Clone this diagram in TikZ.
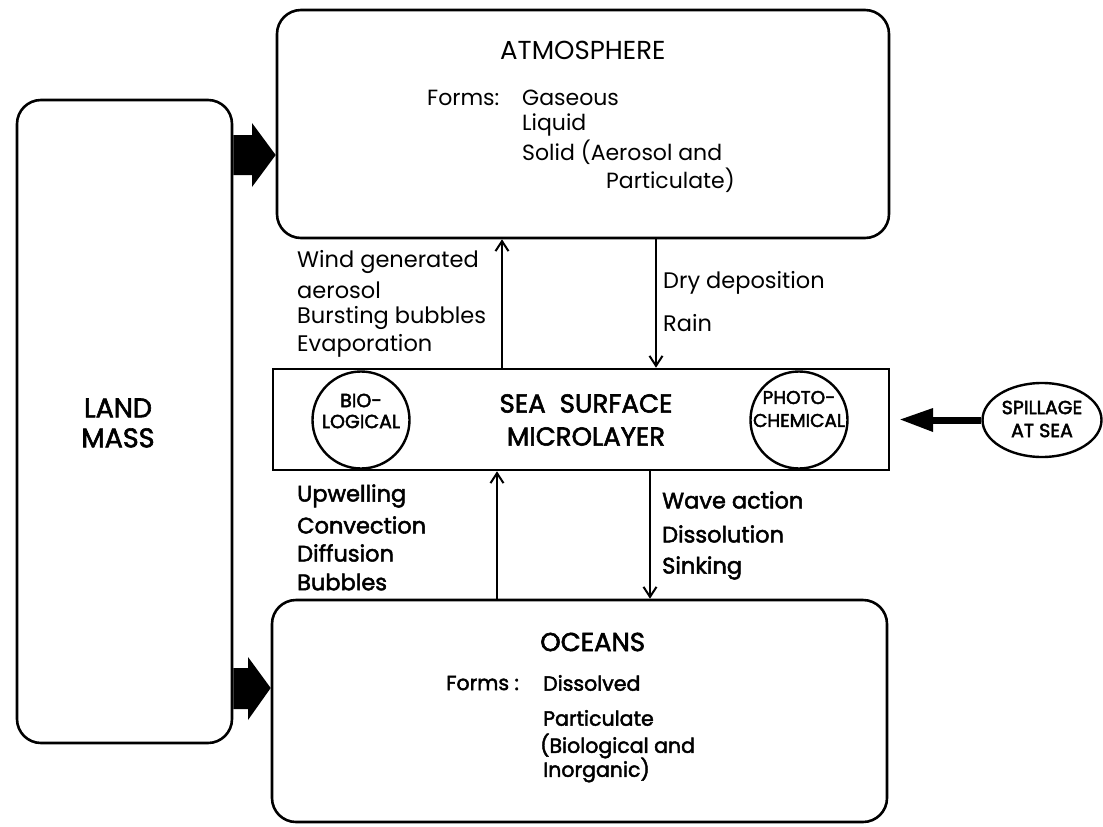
\documentclass[tikz,border=0pt]{standalone}
\usepackage{fontspec}
\setmainfont{Poppins}
\newfontfamily\heavy[FakeBold=2.2]{Poppins}
\newfontfamily\circf[FakeBold=2.4]{Poppins}
\usetikzlibrary{arrows.meta,shapes.geometric,calc}
\tikzset{
  box/.style={draw, line width=2.6pt, rounded corners=24pt, inner sep=0pt},
  flatbox/.style={draw, line width=2.6pt, inner sep=0pt},
  roundel/.style={draw, circle, line width=2.4pt, fill=white, minimum size=97pt, inner sep=0pt},
  lab/.style={anchor=west, inner sep=0pt, font=\fontsize{22.5}{26}\selectfont},
  alab/.style={anchor=west, inner sep=0pt, font=\fontsize{22}{26}\selectfont},
  hlab/.style={anchor=west, inner sep=0pt, font=\heavy\fontsize{22.5}{26}\selectfont},
  olab/.style={anchor=west, inner sep=0pt, font=\heavy\fontsize{20.5}{24}\selectfont},
  title/.style={inner sep=0pt, align=center, font=\fontsize{26}{30}\selectfont},
  htitle/.style={inner sep=0pt, align=center, font=\heavy\fontsize{26}{31}\selectfont},
  circtxt/.style={inner sep=0pt, align=center, font=\circf\fontsize{19}{21}\selectfont},
  flow/.style={line width=2pt, -{Straight Barb[length=10pt,width=13pt,line width=2pt]}},
}
\begin{document}
\begin{tikzpicture}[x=1pt,y=-1pt]
\useasboundingbox (0,0) rectangle (1103,827);
% main boxes
\node[box, minimum width=215pt, minimum height=643pt] (land) at (124.5,421.5) {};
\node[box, minimum width=612pt, minimum height=228pt] (atm) at (583,124) {};
\node[box, minimum width=615pt, minimum height=222pt] (oce) at (579.5,711) {};
\node[flatbox, minimum width=616pt, minimum height=101pt] (sea) at (581,419.5) {};
\node[roundel] (bio) at (361,420) {};
\node[roundel] (pho) at (799,420) {};
\node[draw, ellipse, line width=2.4pt, minimum width=119pt, minimum height=74pt, inner sep=0pt] (spill) at (1042,420) {};

% box texts
\node[htitle, font=\heavy\fontsize{27}{30}\selectfont] (landtxt) at (118,423) {LAND\\MASS};
\node[htitle, font=\heavy\fontsize{26}{33}\selectfont] (seatxt) at (586,420) {SEA\hspace{14pt}SURFACE\\MICROLAYER};
\node[circtxt] (biotxt) at (361,411) {BIO-\\LOGICAL};
\node[circtxt, font=\circf\fontsize{18.5}{23}\selectfont] (photxt) at (799,409) {PHOTO-\\CHEMICAL};
\node[circtxt, font=\circf\fontsize{19}{23}\selectfont] (spilltxt) at (1042,419) {SPILLAGE\\AT SEA};

\node[title, anchor=west] (atmtitle) at (500,50) {ATMOSPHERE};
\node[alab] (atmforms) at (427,98) {Forms:};
\node[alab] (atmf1) at (522,98) {Gaseous};
\node[alab] (atmf2) at (522,125) {Liquid};
\node[alab] (atmf3) at (522,152) {Solid (Aerosol and};
\node[alab] (atmf4) at (606,180) {Particulate)};

\node[htitle, anchor=west] (ocetitle) at (540,642) {OCEANS};
\node[olab] (oceforms) at (446,683) {Forms :};
\node[olab] (ocef1) at (543,683) {Dissolved};
\node[olab] (ocef2) at (543,718) {Particulate};
\node[olab] (ocef3) at (540,746) {(Biological and};
\node[olab] (ocef4) at (543,770) {Inorganic)};

% flow labels
\node[lab] (u1) at (297,262) {Wind generated};
\node[lab] (u2) at (297,290) {aerosol};
\node[lab] (u3) at (297,318) {Bursting bubbles};
\node[lab] (u4) at (297,346) {Evaporation};
\node[lab] (d1) at (663,283) {Dry deposition};
\node[lab] (d2) at (663,323) {Rain};
\node[hlab] (l1) at (297,496) {Upwelling};
\node[hlab] (l2) at (297,525) {Convection};
\node[hlab] (l3) at (297,553) {Diffusion};
\node[hlab] (l4) at (297,582) {Bubbles};
\node[hlab] (r1) at (662,500) {Wave action};
\node[hlab] (r2) at (662,534) {Dissolution};
\node[hlab] (r3) at (662,568) {Sinking};

% thin flows
\draw[flow] (sea.north -| 502,0) -- (atm.south -| 502,0);
\draw[flow] (atm.south -| 656,0) -- (sea.north -| 656,0);
\draw[flow] (oce.north -| 497,0) -- (sea.south -| 497,0);
\draw[flow] (sea.south -| 650,0) -- (oce.north -| 650,0);

% block arrows from land mass
\fill (land.east |- 0,135) -- (252,135) -- (252,123) -- (atm.west |- 0,155)
      -- (252,187) -- (252,175) -- (land.east |- 0,175) -- cycle;
\fill (land.east |- 0,668) -- (248,668) -- (248,657) -- (oce.west |- 0,688)
      -- (248,720) -- (248,709) -- (land.east |- 0,709) -- cycle;

% spillage arrow
\coordinate (spilltip) at ($(sea.east)+(10,0)$);
\draw[line width=7pt] (spill.west) -- (933,420);
\fill (933,408) -- (spilltip) -- (933,432) -- cycle;
\end{tikzpicture}
\end{document}
